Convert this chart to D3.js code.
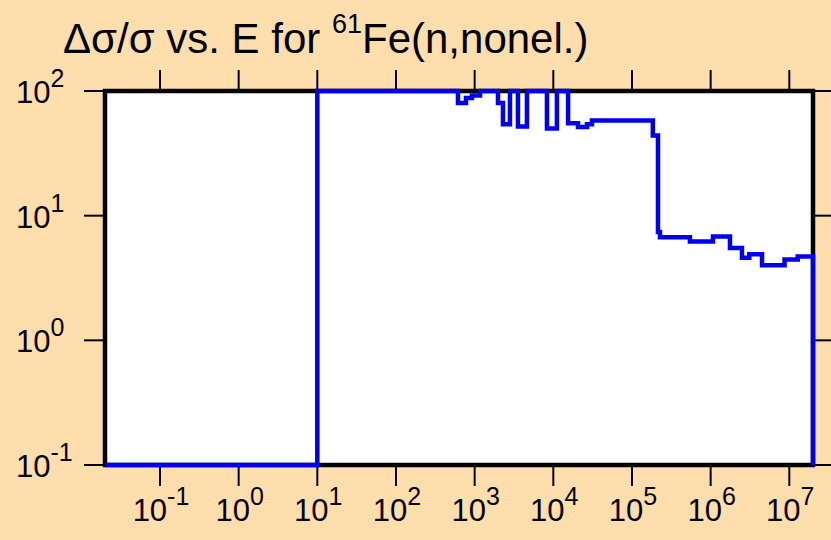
<!DOCTYPE html>
<html>
<head>
<meta charset="utf-8">
<script src="https://cdn.jsdelivr.net/npm/d3@7"></script>
<style>
  body { margin: 0; background: #FFDEAD; }
  text { font-family: "Liberation Sans", Arial, sans-serif; fill: #000; }
</style>
</head>
<body>
<svg id="chart" width="831" height="540"></svg>
<script>
// bin edges (eV) and relative uncertainty (%) per bin
let energies = [0.02, 10, 614, 775, 924, 1170, 1980, 2290, 2810, 3550, 4620, 8300, 11100,
    15400, 20600, 26800, 31000, 184000, 214000, 227000, 545000, 1.07e6, 1.76e6,
    2.5e6, 3.1e6, 4.5e6, 8.7e6, 1.28e7, 2e7]
let uncert = [0.1, 100, 80, 88, 92, 100, 80, 54, 100, 52, 100, 50, 100,
    55, 51.5, 54, 58, 44, 7.4, 6.7, 6.2, 6.8, 5.5,
    4.6, 4.9, 4.0, 4.45, 4.7]
let xTicks = [-1, 0, 1, 2, 3, 4, 5, 6, 7]
let yTicks = [-1, 0, 1, 2]

let width = 831, height = 540
let svg = d3.select("#chart")

svg.append("rect")
    .attr("width", width).attr("height", height)
    .style("fill", "#FFDEAD")

let x = d3.scaleLog().domain([0.02, 2e7]).range([105, 813])
let y = d3.scaleLog().domain([0.1, 100]).range([465, 91])

// plot area
svg.append("rect")
    .attr("x", x.range()[0]).attr("y", y.range()[1])
    .attr("width", x.range()[1] - x.range()[0])
    .attr("height", y.range()[0] - y.range()[1])
    .style("fill", "white")
    .style("stroke", "black")
    .style("stroke-width", 4.5)

// ticks
let tl = 21
let tg = svg.append("g").style("stroke", "black").style("stroke-width", 2)
xTicks.forEach(function (p) {
    let xx = x(Math.pow(10, p))
    tg.append("line").attr("x1", xx).attr("x2", xx).attr("y1", y.range()[0]).attr("y2", y.range()[0] + tl)
    tg.append("line").attr("x1", xx).attr("x2", xx).attr("y1", y.range()[1]).attr("y2", y.range()[1] - tl)
})
yTicks.forEach(function (p) {
    let yy = y(Math.pow(10, p))
    tg.append("line").attr("x1", x.range()[0]).attr("x2", x.range()[0] - tl).attr("y1", yy).attr("y2", yy)
    tg.append("line").attr("x1", x.range()[1]).attr("x2", x.range()[1] + tl).attr("y1", yy).attr("y2", yy)
})

function powLabel(sel, p) {
    let t = sel.append("text").style("font-size", "31px")
    t.append("tspan").text("10")
    t.append("tspan").attr("dy", -16).style("font-size", "25px").text(p)
    return t
}

// x labels
xTicks.forEach(function (p) {
    powLabel(svg, p)
        .attr("x", x(Math.pow(10, p)) + 1).attr("y", 521)
        .attr("text-anchor", "middle")
})
// y labels
yTicks.forEach(function (p) {
    powLabel(svg, p)
        .attr("x", 16).attr("y", y(Math.pow(10, p)) + 12)
})

// data line
let pts = energies.slice(0, -1).map(function (e, i) { return [e, uncert[i]] })
pts.push([energies[energies.length - 1], uncert[uncert.length - 1]])
pts.push([energies[energies.length - 1], 0.1])

let line = d3.line()
    .x(function (d) { return x(d[0]) })
    .y(function (d) { return y(d[1]) })
    .curve(d3.curveStepAfter)

svg.append("path")
    .datum(pts)
    .attr("d", line)
    .style("fill", "none")
    .style("stroke", "#0000ee")
    .style("stroke-width", 4.5)

// title
let title = svg.append("text").attr("x", 63).attr("y", 53).style("font-size", "42px")
title.append("tspan").text("\u0394\u03c3/\u03c3 vs. E for ")
title.append("tspan").attr("dy", -20).style("font-size", "27px").text("61")
title.append("tspan").attr("dy", 20).text("Fe(n,nonel.)")
</script>
</body>
</html>
